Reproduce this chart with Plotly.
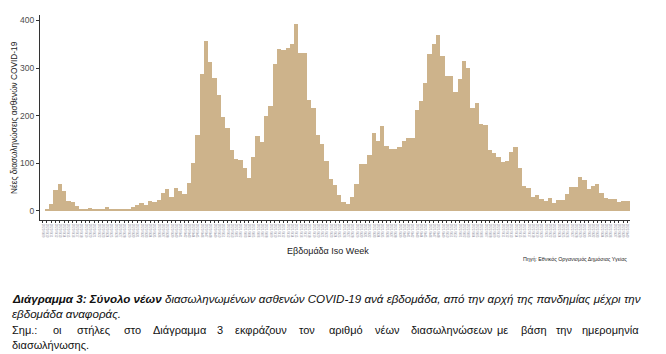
import plotly.graph_objects as go

# ---- data ----
intubations = [0, 2, 15, 44, 56, 42, 21, 19, 10, 4, 4, 6, 4, 2, 4, 8, 2, 4, 4, 4, 2, 8, 12, 17, 12, 21, 19, 23,
               38, 46, 29, 48, 42, 35, 58, 100, 159, 288, 357, 313, 280, 244, 198, 173, 127, 109, 106, 90, 69,
               113, 157, 144, 200, 221, 309, 340,
               338, 342, 351, 392, 332, 332, 232, 215, 159, 140, 104, 67, 54, 33, 19, 15, 29, 56, 98, 98, 117,
               163, 146, 179, 136, 129, 129,
               134, 146, 152, 152, 211, 230, 268, 330, 351, 369, 326, 284, 284, 250, 278, 315, 301, 215, 226,
               182, 180, 127, 121, 113, 102, 104, 123, 134,
               90, 52, 48, 29, 33, 25, 21, 27, 17, 23, 23, 35, 50, 50, 71, 65, 46, 52, 56, 38, 27, 25, 25, 19,
               21, 21]

weeks_per_year = {2020: 53, 2021: 52, 2022: 52}
start_year, start_week = 2020, 9
week_labels = []
y_, w_ = start_year, start_week
for _ in intubations:
    week_labels.append(f"{y_}-W{w_:02d}")
    w_ += 1
    if w_ > weeks_per_year[y_]:
        y_, w_ = y_ + 1, 1

y_ticks = [0, 100, 200, 300, 400]

note_words = ["Σημ.:", "οι", "στήλες", "στο", "Διάγραμμα", "3", "εκφράζουν", "τον", "αριθμό", "νέων",
              "διασωληνώσεων", "με", "βάση", "την", "ημερομηνία"]

x_pos = list(range(1, len(intubations) + 1))

W, H = 666, 354
L, R, T, B = 40, 36, 15, 134
pw, ph = W - L - R, H - T - B


def px(x):
    return (x - L) / pw


def py(y):
    return (H - B - y) / ph


fig = go.Figure(go.Bar(x=x_pos, y=intubations, marker=dict(color="#CDB38B", line=dict(width=0)),
                       hoverinfo="x+y"))

fig.update_layout(
    width=W, height=H, margin=dict(l=L, r=R, t=T, b=B),
    paper_bgcolor="white", plot_bgcolor="white", bargap=0, showlegend=False,
    font=dict(family="Liberation Sans, Arial, sans-serif", color="#333"),
)
fig.update_xaxes(range=[0.4, len(intubations) + 0.6], tickmode="array", tickvals=x_pos, ticktext=week_labels,
                 tickangle=90, tickfont=dict(size=3, color="#8a8a9a"), ticks="outside", ticklen=2,
                 tickcolor="#333", showline=True, linecolor="#333", linewidth=1.2, showgrid=False,
                 zeroline=False, fixedrange=True)
fig.update_yaxes(range=[-19.6, 411.6], tickvals=y_ticks, tickfont=dict(size=8.5, color="#4d4d4d"),
                 ticks="outside", ticklen=3, tickcolor="#333", showline=True, linecolor="#333",
                 linewidth=1.2, showgrid=False, zeroline=False, fixedrange=True)

ann = []
ann.append(dict(text="Νέες διασωληνώσεις ασθενών COVID-19", x=px(14), y=py(118), textangle=-90,
                font=dict(size=8.3, color="#222")))
ann.append(dict(text="Εβδομάδα Iso Week", x=px(328), y=py(251), font=dict(size=9, color="#222")))
ann.append(dict(text="Πηγή: Εθνικός Οργανισμός Δημόσιας Υγείας", x=px(629), y=py(259), xanchor="right",
                font=dict(size=5.3, color="#222")))

cap_font = dict(family="Liberation Sans, Arial, sans-serif", size=11.6, color="#111")
reg_font = dict(family="Liberation Sans, Arial, sans-serif", size=11, color="#111")
ann.append(dict(text="<b><i>Διάγραμμα 3: Σύνολο νέων</i></b> <i>διασωληνωμένων ασθενών COVID-19 ανά εβδομάδα, "
                     "από την αρχή της πανδημίας μέχρι την</i>",
                x=px(10), y=py(298), xanchor="left", font=cap_font))
ann.append(dict(text="<i>εβδομάδα αναφοράς.</i>", x=px(10), y=py(313), xanchor="left", font=cap_font))

# justified note line: spread the words between x=10 and x=641
left_px, right_px, cw = 10.0, 641.0, 5.7
total_chars = sum(len(w) for w in note_words)
gap = (right_px - left_px - total_chars * cw) / (len(note_words) - 1)
cur = left_px
for i, w in enumerate(note_words):
    if i == len(note_words) - 1:
        ann.append(dict(text=w, x=px(right_px), y=py(330), xanchor="right", font=reg_font))
    else:
        ann.append(dict(text=w, x=px(cur), y=py(330), xanchor="left", font=reg_font))
    cur += len(w) * cw + gap
ann.append(dict(text="διασωλήνωσης.", x=px(10), y=py(345), xanchor="left", font=reg_font))

for a in ann:
    a.update(xref="paper", yref="paper", showarrow=False, yanchor="middle")
    a.setdefault("xanchor", "center")
fig.update_layout(annotations=ann)

fig.write_html("out.html")
